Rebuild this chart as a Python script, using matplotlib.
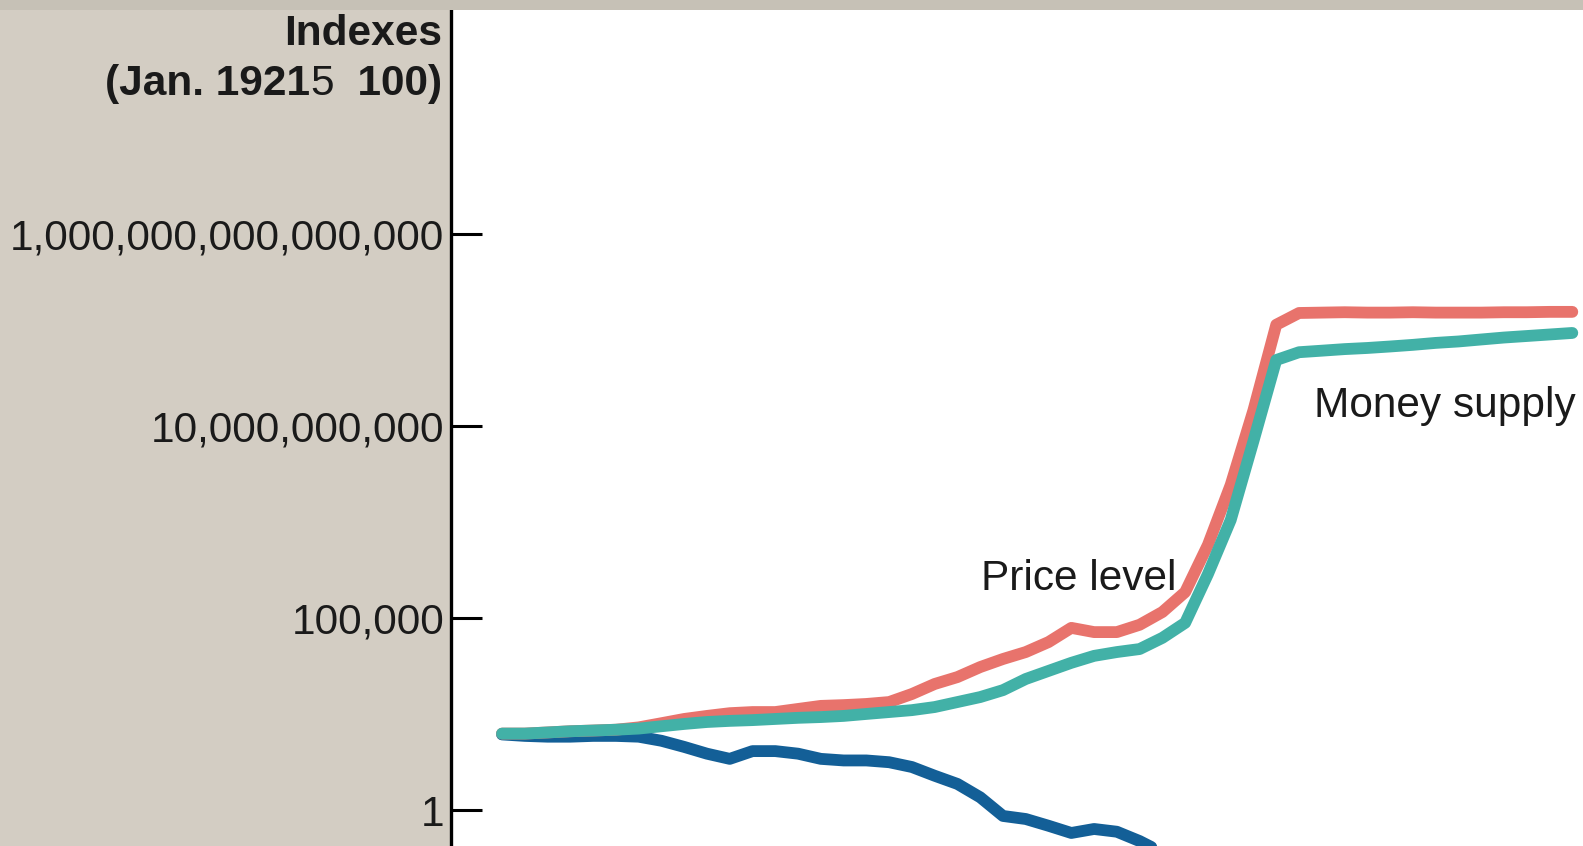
import numpy as np
import matplotlib.pyplot as plt
from matplotlib.patches import Rectangle

# monthly indexes from Jan. 1921 (= 100) through Dec. 1924
price_level = [100, 100, 107, 115, 120, 126, 145, 186, 240, 288, 339, 363,
               363, 437, 525, 550, 589, 661, 1070, 1950, 2950, 5370, 8710, 13200,
               24000, 56200, 43600, 43600, 67600, 145000, 479000, 8.1e6, 2.95e8, 2.6e10, 4.3e12, 8.7e12,
               8.9e12, 9.1e12, 8.9e12, 8.9e12, 9.1e12, 8.9e12, 8.9e12, 8.9e12, 9.1e12, 9.1e12, 9.3e12, 9.3e12]
money_supply = [100, 100, 107, 115, 120, 126, 135, 155, 178, 200, 214, 224,
                240, 257, 269, 288, 324, 363, 407, 490, 661, 891, 1350, 2630,
                4270, 6920, 10500, 13200, 15800, 30900, 75900, 1.41e6, 3.6e7, 4.1e9, 5.2e11, 8.3e11,
                9.1e11, 1.0e12, 1.07e12, 1.17e12, 1.29e12, 1.45e12, 1.58e12, 1.78e12, 2.0e12, 2.19e12, 2.4e12, 2.63e12]
real_balances = [95, 87, 83, 83, 87, 87, 83, 65, 45, 30, 22, 35,
                 35, 30, 22, 20, 20, 18, 13.5, 8, 4.9, 2.2, 0.72, 0.6,
                 0.4, 0.26, 0.33, 0.28, 0.16, 0.08, 0.016]

ytick_values = [1, 1e5, 1e10, 1e15]
ytick_labels = ["1", "100,000", "10,000,000,000", "1,000,000,000,000,000"]

RED = "#e8736c"
TEAL = "#42b1a7"
BLUE = "#135f97"
INK = "#1a1a1a"

plt.rcParams["font.family"] = ["Liberation Sans", "DejaVu Sans"]

W, H = 1583, 846
fig = plt.figure(figsize=(W / 100, H / 100), dpi=100, facecolor="#d3cdc3")
ax = fig.add_axes([451 / W, 0, 1 - 451 / W, 836 / H])
ax.set_facecolor("white")

# darker strip along the top edge
fig.add_artist(Rectangle((0, 836 / H), 1, 10 / H, transform=fig.transFigure,
                         facecolor="#c6c1b6", edgecolor="none"))

months = np.arange(len(price_level))
line_kw = dict(lw=8.5, solid_capstyle="round", solid_joinstyle="round")
ax.plot(months[:len(real_balances)], real_balances, color=BLUE, **line_kw)
ax.plot(months, price_level, color=RED, **line_kw)
ax.plot(months, money_supply, color=TEAL, **line_kw)

ax.set_yscale("log")
ax.set_ylim(10 ** -0.924, 10 ** 20.82)
ax.set_xlim(-2.24, 47.47)
ax.set_yticks(ytick_values)
ax.set_yticklabels(ytick_labels)
ax.yaxis.set_minor_locator(plt.NullLocator())
ax.tick_params(axis="y", direction="in", length=22, width=2.2, pad=5,
               labelsize=30.5, labelcolor=INK, color="black")
ax.set_xticks([])
for side in ["top", "right", "bottom"]:
    ax.spines[side].set_visible(False)
ax.spines["left"].set_linewidth(2.4)
ax.spines["left"].set_color("black")

ax.text(21.04, 10 ** 5.74, "Price level", fontsize=30.5, color=INK,
        ha="left", va="baseline")
ax.text(35.66, 10 ** 10.24, "Money supply", fontsize=30.5, color=INK,
        ha="left", va="baseline")

# axis title, the second line mixes bold and regular text
fig.text(442 / W, 1 - 34 / H, "Indexes", fontsize=30.5, fontweight="bold",
         color=INK, ha="right", va="center")
y2 = 1 - 84 / H
fig.canvas.draw()
r = fig.canvas.get_renderer()
t1 = fig.text(442 / W, y2, "  100)", fontsize=30.5, fontweight="bold",
              color=INK, ha="right", va="center")
x0 = t1.get_window_extent(r).x0 / W
t2 = fig.text(x0, y2, "5", fontsize=30.5, color=INK, ha="right", va="center")
x0 = t2.get_window_extent(r).x0 / W
fig.text(x0, y2, "(Jan. 1921", fontsize=30.5, fontweight="bold",
         color=INK, ha="right", va="center")

fig.savefig("out.png", dpi=100, facecolor=fig.get_facecolor())
